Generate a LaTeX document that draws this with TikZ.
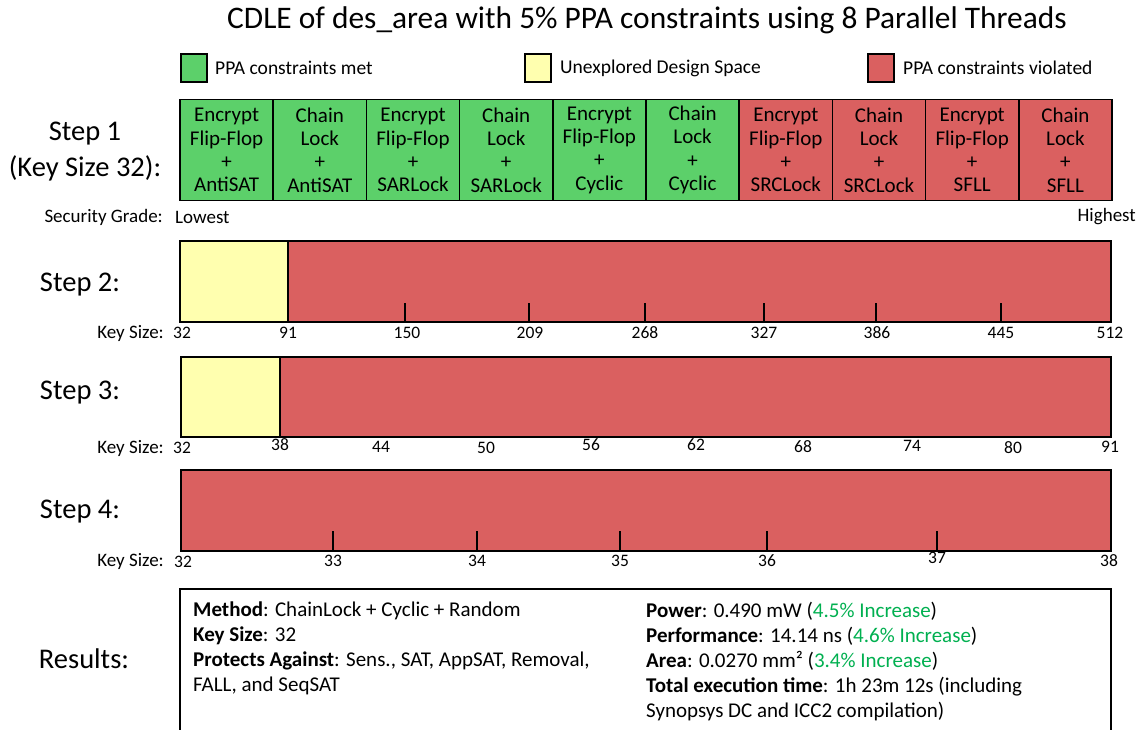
\documentclass[tikz,border=0pt]{standalone}
\usepackage{fontspec}
\setmainfont{Carlito}
\definecolor{gOK}{RGB}{92,208,106}
\definecolor{rBad}{RGB}{218,96,96}
\definecolor{yUn}{RGB}{255,255,175}
\definecolor{gTxt}{RGB}{0,176,80}
\begin{document}
\begin{tikzpicture}[x=1pt,y=-1pt,
  lbl/.style={inner sep=0pt,font=\fontsize{28.5}{33}\selectfont},
  leg/.style={inner sep=0pt,anchor=west,font=\fontsize{19.5}{23}\selectfont},
  legbox/.style={draw,line width=1.5pt,minimum width=26pt,minimum height=28pt,inner sep=0pt},
  cell/.style={draw,line width=1.5pt,minimum width=93.2pt,minimum height=101pt,inner sep=0pt,align=center,font=\fontsize{21}{23.3}\selectfont},
  num/.style={inner sep=0pt,font=\fontsize{17.5}{20}\selectfont},
  small/.style={inner sep=0pt,font=\fontsize{19}{22}\selectfont},
  barline/.style={line width=1.5pt},
  tick/.style={line width=2pt},
  res/.style={inner sep=0pt,anchor=north west,align=left,font=\fontsize{21}{25}\selectfont}]
\useasboundingbox (0,0) rectangle (1141,729);
\fill[white] (0,0) rectangle (1141,729);
% title
\node[inner sep=0pt,font=\fontsize{31.4}{36}\selectfont] (title) at (647,20) {CDLE of des\_area with 5\% PPA constraints using 8 Parallel Threads};
% legend
\node[legbox,fill=gOK] (lg1) at (194,68) {};
\node[leg] (lt1) at (215,68) {PPA constraints met};
\node[legbox,fill=yUn] (lg2) at (538,68) {};
\node[leg] (lt2) at (560,68) {Unexplored Design Space};
\node[legbox,fill=rBad] (lg3) at (881,68) {};
\node[leg] (lt3) at (903,68) {PPA constraints violated};
% step 1
\node[lbl] (s1a) at (85,134) {Step 1};
\node[lbl] (s1b) at (85,168) {(Key Size 32):};
\foreach \i/\c/\t in {0/gOK/{Encrypt\\Flip-Flop\\+\\AntiSAT},1/gOK/{Chain\\Lock\\+\\AntiSAT},2/gOK/{Encrypt\\Flip-Flop\\+\\SARLock},3/gOK/{Chain\\Lock\\+\\SARLock},4/gOK/{Encrypt\\Flip-Flop\\+\\Cyclic},5/gOK/{Chain\\Lock\\+\\Cyclic},6/rBad/{Encrypt\\Flip-Flop\\+\\SRCLock},7/rBad/{Chain\\Lock\\+\\SRCLock},8/rBad/{Encrypt\\Flip-Flop\\+\\SFLL},9/rBad/{Chain\\Lock\\+\\SFLL}}{
  \node[cell,fill=\c] (c\i) at ({226.6+93.2*\i},150) {\t};
}
\node[small,anchor=east] (sg) at (163,217) {Security Grade:};
\node[small,anchor=west] (low) at (175,217) {Lowest};
\node[small,anchor=east] (high) at (1136,217) {Highest};
% step 2
\node[lbl] (s2) at (80,285) {Step 2:};
\fill[yUn] (180,241) rectangle (288,322);
\fill[rBad] (288,241) rectangle (1111,322);
\draw[barline] (180,241) rectangle (1111,322);
\draw[barline] (288,241) -- (288,322);
\foreach \x in {405,529,645,764,876,1001}{\draw[tick] (\x,303) -- (\x,322);}
\node[small,anchor=east] (k2) at (164,333) {Key Size:};
\foreach \x/\v in {182/32,288/91,407/150,530/209,645/268,764/327,877/386,1001/445,1110/512}{\node[num] (n2-\v) at (\x,333) {\v};}
% step 3
\node[lbl] (s3) at (80,393) {Step 3:};
\fill[yUn] (181,357) rectangle (280,437);
\fill[rBad] (280,357) rectangle (1111,437);
\draw[barline] (181,357) rectangle (1111,437);
\draw[barline] (280,357) -- (280,437);
\node[small,anchor=east] (k3) at (164,448) {Key Size:};
\foreach \x/\y/\v in {182/448/32,280/445/38,381/447/44,486/448/50,591/445/56,696/445/62,803/447/68,912/446/74,1013/448/80,1110/447/91}{\node[num] (n3-\v) at (\x,\y) {\v};}
% step 4
\node[lbl] (s4) at (80,512) {Step 4:};
\fill[rBad] (181,470) rectangle (1111,551);
\draw[barline] (181,470) rectangle (1111,551);
\foreach \x in {333,477,620,767,937}{\draw[tick] (\x,531) -- (\x,551);}
\node[small,anchor=east] (k4) at (164,561) {Key Size:};
\foreach \x/\y/\v in {183/562/32,333/561/33,477/561/34,620/561/35,767/561/36,937/558/37,1109/561/38}{\node[num] (n4-\v) at (\x,\y) {\v};}
% results
\node[lbl] (rs) at (84,659) {Results:};
\draw[barline] (180,760) -- (180,589) -- (1111,589) -- (1111,760);
\node[res] (r1) at (193,602) {\textbf{Method}: ChainLock + Cyclic + Random\\\textbf{Key Size}: 32\\\textbf{Protects Against}: Sens., SAT, AppSAT, Removal,\\FALL, and SeqSAT};
\node[res] (r2) at (646,602) {\textbf{Power}: 0.490 mW (\textcolor{gTxt}{4.5\% Increase})\\\textbf{Performance}: 14.14 ns (\textcolor{gTxt}{4.6\% Increase})\\\textbf{Area}: 0.0270 mm² (\textcolor{gTxt}{3.4\% Increase})\\\textbf{Total execution time}: 1h 23m 12s (including\\Synopsys DC and ICC2 compilation)};
\end{tikzpicture}
\end{document}
